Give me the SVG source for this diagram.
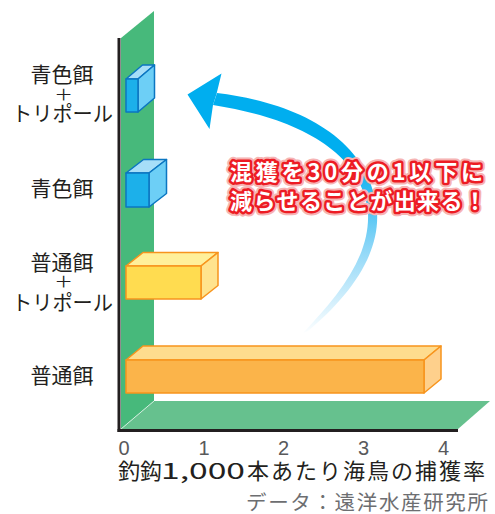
<svg xmlns="http://www.w3.org/2000/svg" width="495" height="514" viewBox="0 0 495 514">
<defs>
<style>
.lbl{font-family:"Noto Sans CJK JP","Noto Sans",sans-serif;font-size:21px;fill:#231f20;text-anchor:middle}
.plus{font-family:"Noto Sans CJK JP","Noto Sans",sans-serif;font-size:15px;fill:#231f20;text-anchor:middle}
.tick{font-family:"Liberation Sans",sans-serif;font-size:20px;fill:#58595b;text-anchor:middle}
.title{font-family:"Noto Sans CJK JP","Noto Sans",sans-serif;font-size:22px;fill:#231f20}
.src{font-family:"Noto Sans CJK JP","Noto Sans",sans-serif;font-size:20.5px;fill:#6d6e71}
.msg{font-family:"Noto Sans CJK JP","Noto Sans",sans-serif;font-size:22px;font-weight:bold;paint-order:stroke;stroke-linejoin:round}
.halo{fill:#f6b4b4;stroke:#f6b4b4;stroke-width:9}
.red{fill:#ffffff;stroke:#ed1c24;stroke-width:5}
.blue{stroke:#0b76c1;stroke-width:1.5;stroke-linejoin:round}
.orng{stroke:#f7941d;stroke-width:1.5;stroke-linejoin:round}
</style>
<linearGradient id="arrowGrad" gradientUnits="userSpaceOnUse" x1="0" y1="335" x2="0" y2="160">
<stop offset="0" stop-color="#ffffff"/>
<stop offset="0.5" stop-color="#8cd6f7"/>
<stop offset="1" stop-color="#00aeef"/>
</linearGradient>
</defs>

<g id="chart-frame">
<polygon points="121,38 154,11 154,401 121,429" fill="#47b97b"/>
<polygon points="121,429 154,401 490,401 458,429" fill="#66c18e"/>
<line x1="121" y1="429" x2="154" y2="401" stroke="#ffffff" stroke-width="0.8" stroke-opacity="0.8"/>
<line x1="119" y1="38" x2="119" y2="432" stroke="#231f20" stroke-width="3"/>
<line x1="117.5" y1="430.5" x2="458" y2="430.5" stroke="#231f20" stroke-width="3"/>
</g>

<g id="bar-blue-tripole">
<polygon class="blue" points="126,79 142.5,65 154.5,65 138,79" fill="#a6def8"/>
<polygon class="blue" points="138,79 154.5,65 154.5,98 138,112" fill="#6dcff6"/>
<rect class="blue" x="126" y="79" width="12" height="33" fill="#1cb0ea"/>
</g>
<g id="bar-blue">
<polygon class="blue" points="126,173 143.5,159.5 166.5,159.5 149,173" fill="#a6def8"/>
<polygon class="blue" points="149,173 166.5,159.5 166.5,193.5 149,207" fill="#6dcff6"/>
<rect class="blue" x="126" y="173" width="23" height="34" fill="#1cb0ea"/>
</g>
<g id="bar-normal-tripole">
<polygon class="orng" points="126,266 143,252.5 218,252.5 201,266" fill="#fff09a"/>
<polygon class="orng" points="201,266 218,252.5 218,285.5 201,299" fill="#ffe38e"/>
<rect class="orng" x="126" y="266" width="75" height="33" fill="#ffdc50"/>
</g>
<g id="bar-normal">
<polygon class="orng" points="126,360 143,346 441,346 424,360" fill="#fedc8e"/>
<polygon class="orng" points="424,360 441,346 441,379 424,393" fill="#fed08c"/>
<rect class="orng" x="126" y="360" width="298" height="33" fill="#fbb44a"/>
</g>

<g id="labels">
<text class="lbl" x="62" y="81.5">青色餌</text>
<text class="plus" x="63.5" y="100" transform="translate(63.5,0) scale(1.25,1) translate(-63.5,0)">＋</text>
<text class="lbl" x="62.5" y="120.5" textLength="101" lengthAdjust="spacingAndGlyphs">トリポール</text>
<text class="lbl" x="62" y="195.5">青色餌</text>
<text class="lbl" x="62" y="270">普通餌</text>
<text class="plus" x="63.5" y="287.5" transform="translate(63.5,0) scale(1.25,1) translate(-63.5,0)">＋</text>
<text class="lbl" x="62.5" y="309.5" textLength="101" lengthAdjust="spacingAndGlyphs">トリポール</text>
<text class="lbl" x="62" y="383">普通餌</text>
</g>

<g id="axis-ticks">
<text class="tick" x="124" y="455">0</text>
<text class="tick" x="204" y="455">1</text>
<text class="tick" x="283.5" y="455">2</text>
<text class="tick" x="363.5" y="455">3</text>
<text class="tick" x="443.5" y="455">4</text>
</g>

<g id="connectors">
<path d="M217,93 C300,103 371,140 377,212 C380,258 345,300 308,331 L303,333 C337,297 370,258 368,213 C362,150 295,118 213,105 Z" fill="url(#arrowGrad)"/>
<polygon points="187.5,94.5 221.5,73.5 216.5,94 213,105 209.5,129" fill="#00aeef"/>
</g>

<g id="message">
<text class="msg halo" x="230" y="180" textLength="253" lengthAdjust="spacing">混獲を30分の1以下に</text>
<text class="msg halo" x="230" y="209" textLength="256" lengthAdjust="spacing">減らせることが出来る！</text>
<text class="msg red" x="230" y="180" textLength="253" lengthAdjust="spacing">混獲を30分の1以下に</text>
<text class="msg red" x="230" y="209" textLength="256" lengthAdjust="spacing">減らせることが出来る！</text>
</g>

<g id="axis-title">
<text class="title" y="478.5"><tspan x="118">釣鈎</tspan><tspan x="161" textLength="84" lengthAdjust="spacingAndGlyphs">1,000</tspan><tspan x="247" letter-spacing="2">本あたり海鳥の捕獲率</tspan></text>
</g>
<g id="source">
<text class="src" x="246" y="509.5" textLength="242" lengthAdjust="spacing">データ：遠洋水産研究所</text>
</g>
</svg>
